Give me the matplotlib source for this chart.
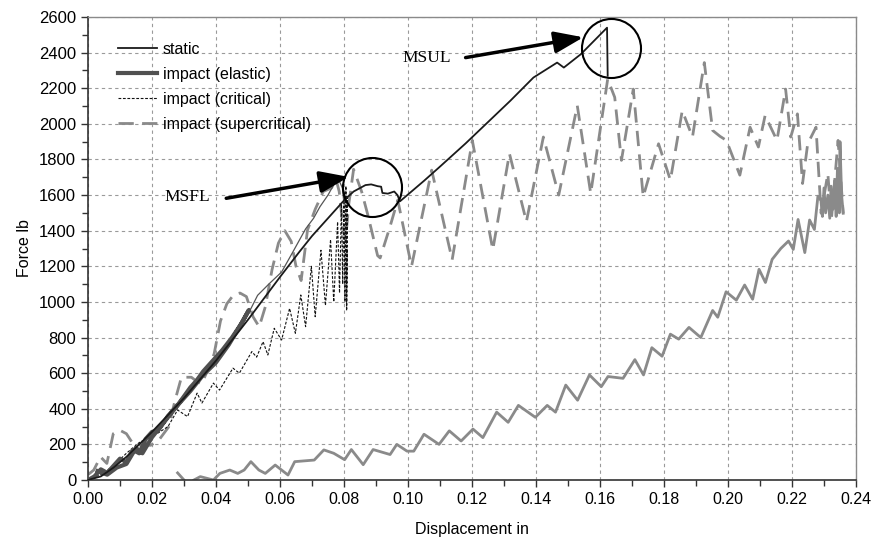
import matplotlib
matplotlib.use("Agg")
import matplotlib.pyplot as plt
from matplotlib.ticker import MultipleLocator, FormatStrFormatter

plt.rcParams["font.family"] = ["Liberation Sans", "DejaVu Sans"]

# --- data (displacement in, force lb) ---
static_x = [0.0, 0.004, 0.008, 0.012, 0.016, 0.020, 0.030, 0.040, 0.050, 0.060, 0.066,
            0.070, 0.075, 0.080, 0.083, 0.0867, 0.0885, 0.0905, 0.0916, 0.0920, 0.0937,
            0.0957, 0.0967, 0.0975, 0.105, 0.110, 0.118, 0.125, 0.132, 0.1392, 0.1466,
            0.1487, 0.154, 0.1622, 0.1624]
static_y = [0, 20, 70, 130, 200, 270, 460, 670, 900, 1140, 1280,
            1370, 1470, 1570, 1620, 1656, 1660, 1650, 1647, 1612, 1608,
            1620, 1600, 1565, 1680, 1760, 1890, 2010, 2130, 2260, 2344,
            2316, 2391, 2540, 2270]

elastic_x = [0.0, 0.002, 0.004, 0.006, 0.008, 0.010, 0.012, 0.014, 0.016, 0.018, 0.020,
             0.022, 0.025, 0.028, 0.030, 0.032, 0.034, 0.036, 0.038, 0.040, 0.042, 0.045,
             0.048, 0.0503, 0.047, 0.044, 0.040, 0.036, 0.032, 0.028, 0.024, 0.020, 0.017,
             0.015, 0.012, 0.009, 0.006, 0.003]
elastic_y = [0, 20, 60, 40, 80, 120, 100, 170, 150, 230, 270,
             280, 360, 420, 470, 520, 560, 610, 650, 690, 730, 800,
             880, 955, 850, 760, 660, 590, 500, 420, 330, 240, 150,
             180, 90, 70, 30, 50]

critical_x = [0.0, 0.004, 0.008, 0.012, 0.016, 0.0219, 0.025, 0.028, 0.0311, 0.0341,
              0.0356, 0.0392, 0.0411, 0.0453, 0.0473, 0.0512, 0.0527, 0.0547, 0.0562,
              0.0582, 0.0605, 0.063, 0.0648, 0.0665, 0.068, 0.0698, 0.071, 0.0728,
              0.0742, 0.0758, 0.0768, 0.078, 0.0786, 0.0792, 0.0796, 0.080, 0.0803,
              0.0806, 0.0808, 0.081, 0.0808, 0.081]
critical_y = [0, 30, 80, 150, 210, 264, 300, 393, 356, 488,
              432, 544, 505, 628, 600, 721, 690, 777, 702,
              852, 786, 964, 824, 1039, 861, 1200, 917, 1290,
              980, 1350, 1000, 1450, 1050, 1550, 1100, 1620, 1000,
              1650, 950, 1600, 960, 1300]

# thin branch of the critical run just above the static curve
crit_branch_x = [0.045, 0.050, 0.053, 0.0565, 0.0605, 0.064, 0.068, 0.0705, 0.0725,
                 0.075, 0.077, 0.0785, 0.0795, 0.080]
crit_branch_y = [790, 930, 1037, 1100, 1168, 1280, 1410, 1470, 1535,
                 1600, 1665, 1680, 1640, 1550]

super_x = [0.0, 0.0018, 0.0039, 0.0059, 0.0079, 0.0099, 0.012, 0.014, 0.0165, 0.0196,
           0.0221, 0.0252, 0.0272, 0.0292, 0.0323, 0.0343, 0.0355, 0.037, 0.0394, 0.0414,
           0.0434, 0.0455, 0.0475, 0.0495, 0.0516, 0.0535, 0.0554, 0.0575, 0.0595, 0.0615,
           0.0635, 0.065, 0.0666, 0.0686, 0.071, 0.0735, 0.0761, 0.0775, 0.0785, 0.0795,
           0.0805, 0.0815, 0.083, 0.0855, 0.0875, 0.0905, 0.0913, 0.0944, 0.0968, 0.1011,
           0.1074, 0.1138, 0.1201, 0.1265, 0.1317, 0.137, 0.1423, 0.1471, 0.1529, 0.1571,
           0.1624, 0.1646, 0.1667, 0.1704, 0.1735, 0.1783, 0.182, 0.1857, 0.1889, 0.1926,
           0.1952, 0.1975, 0.1995, 0.2037, 0.2069, 0.2095, 0.2116, 0.2153, 0.218, 0.2196,
           0.2217, 0.2233, 0.2249, 0.2275, 0.2291, 0.2312, 0.2323, 0.2344, 0.236]
super_y = [30, 56, 130, 93, 260, 280, 260, 205, 195, 195,
           223, 298, 447, 577, 577, 550, 540, 600, 707, 893,
           990, 1040, 1050, 1030, 916, 860, 972, 1180, 1330, 1400,
           1340, 1200, 1120, 1404, 1520, 1620, 1640, 1690, 1620, 1450,
           1350, 1550, 1745, 1620, 1485, 1260, 1247, 1424, 1572, 1200,
           1740, 1237, 1907, 1293, 1833, 1451, 1926, 1600, 2102, 1609,
           2251, 2149, 1795, 2195, 1591, 1888, 1684, 2074, 1926, 2344,
           1963, 1930, 1907, 1712, 1981, 1870, 2047, 1907, 2195, 1926,
           2056, 1665, 1888, 1981, 1498, 1721, 1460, 1907, 1498]

# rebound / unloading part of the supercritical run (drawn solid)
rebound_x = [0.236, 0.2355, 0.235, 0.2348, 0.2342, 0.2338, 0.2333, 0.2328, 0.2322, 0.2318,
             0.2312, 0.2305, 0.230, 0.2295, 0.229, 0.2281, 0.227, 0.2255, 0.224, 0.2219,
             0.2204, 0.2189, 0.2165, 0.2138, 0.2117, 0.2097, 0.2077, 0.2052, 0.2026, 0.1994,
             0.1968, 0.1952, 0.1915, 0.1878, 0.1846, 0.182, 0.1794, 0.1762, 0.1736, 0.1709,
             0.1672, 0.1625, 0.1604, 0.1567, 0.153, 0.1493, 0.1461, 0.1435, 0.1398, 0.1345,
             0.1313, 0.1277, 0.1234, 0.1203, 0.1166, 0.1129, 0.1097, 0.105, 0.1018, 0.0997,
             0.0965, 0.0944, 0.0891, 0.086, 0.0823, 0.0802, 0.0768, 0.0737, 0.0707, 0.0646,
             0.0625, 0.0605, 0.0585, 0.0554, 0.0534, 0.0509, 0.0488, 0.0468, 0.0443, 0.0412,
             0.0392, 0.0351, 0.0331]
rebound_y = [1498, 1600, 1900, 1500, 1750, 1480, 1680, 1520, 1650, 1470,
             1600, 1500, 1640, 1480, 1580, 1594, 1407, 1460, 1277, 1463,
             1295, 1342, 1300, 1239, 1109, 1183, 1015, 1095, 1010, 1057,
             914, 952, 800, 857, 791, 819, 695, 743, 590, 676,
             571, 581, 524, 590, 448, 533, 381, 419, 352, 419,
             324, 381, 238, 286, 219, 276, 200, 257, 162, 162,
             200, 143, 171, 86, 171, 114, 150, 169, 112, 103,
             28, 56, 84, 37, 56, 103, 56, 37, 56, 37,
             0, 19, 0]
tail_x = [0.0280, 0.0300]
tail_y = [40, 0]

labels = ["static", "impact (elastic)", "impact (critical)", "impact (supercritical)"]

msfl_text = ("MSFL", 0.0309, 1588)
msfl_arrow = ((0.0432, 1582), (0.0815, 1702))
msfl_circle = (0.0888, 1647)
msul_text = ("MSUL", 0.1057, 2372)
msul_arrow = ((0.1180, 2372), (0.1548, 2486))
msul_circle = (0.1635, 2426)

fig = plt.figure(figsize=(8.9, 5.4), dpi=100)
ax = fig.add_axes([88 / 890, 1 - 480 / 540, (856 - 88) / 890, (480 - 17) / 540])

ax.grid(True, which="major", color="#9a9a9a", lw=0.8, linestyle=(0, (3, 3)))
ax.set_axisbelow(True)

ax.plot(super_x, super_y, color="#8a8a8a", lw=2, linestyle=(0, (5.5, 3)), label=labels[3], zorder=2)
ax.plot(rebound_x, rebound_y, color="#8a8a8a", lw=2, zorder=2)
ax.plot(tail_x, tail_y, color="#8a8a8a", lw=2, zorder=2)
ax.plot(critical_x, critical_y, color="#111111", lw=0.8, linestyle=(0, (2.5, 1.5)), label=labels[2], zorder=3)
ax.plot(crit_branch_x, crit_branch_y, color="#555555", lw=0.9, zorder=3)
ax.plot(elastic_x, elastic_y, color="#505050", lw=3, label=labels[1], zorder=4)
ax.plot(static_x, static_y, color="#1a1a1a", lw=1.3, label=labels[0], zorder=5)

# legend order as in the reference
h, l = ax.get_legend_handles_labels()
hd = dict(zip(l, h))
ax.legend([hd[s] for s in labels], labels, loc="upper left", bbox_to_anchor=(0.039, 0.946),
          frameon=False, fontsize=11.5, handlelength=2.45, handletextpad=0.35,
          labelspacing=0.62, borderpad=0, borderaxespad=0)

# annotations: label, arrow, circle
for (txt, tx, ty), (start, tip), (cx, cy) in [
        (msfl_text, msfl_arrow, msfl_circle), (msul_text, msul_arrow, msul_circle)]:
    ax.text(tx, ty, txt, ha="center", va="center", fontsize=12.5,
            family=["Liberation Serif", "DejaVu Serif"], zorder=7)
    ax.annotate("", xy=tip, xytext=start,
                arrowprops=dict(arrowstyle="-|>,head_length=0.8,head_width=0.3",
                                lw=2.5, color="black", mutation_scale=22,
                                shrinkA=0, shrinkB=0), zorder=7)
    ax.plot([cx], [cy], marker="o", markersize=42.5, mfc="none", mec="black",
            mew=1.5, zorder=7)

ax.set_xlim(0, 0.24)
ax.set_ylim(0, 2600)
ax.xaxis.set_major_locator(MultipleLocator(0.02))
ax.xaxis.set_minor_locator(MultipleLocator(0.01))
ax.yaxis.set_major_locator(MultipleLocator(200))
ax.yaxis.set_minor_locator(MultipleLocator(100))
ax.xaxis.set_major_formatter(FormatStrFormatter("%.2f"))
ax.tick_params(which="both", direction="out", labelsize=11.5, color="#333333")
ax.tick_params(axis="y", labelsize=12)
ax.tick_params(which="major", length=5, width=1)
ax.tick_params(which="minor", length=4, width=1)

for side in ("left", "bottom"):
    ax.spines[side].set_color("#333333")
    ax.spines[side].set_linewidth(1.2)
for side in ("top", "right"):
    ax.spines[side].set_color("#8a8a8a")
    ax.spines[side].set_linewidth(1)

ax.set_xlabel("Displacement in", fontsize=11.5, labelpad=11)
ax.set_ylabel("Force lb", fontsize=11.5, labelpad=5)

fig.savefig("out.png", dpi=100)
